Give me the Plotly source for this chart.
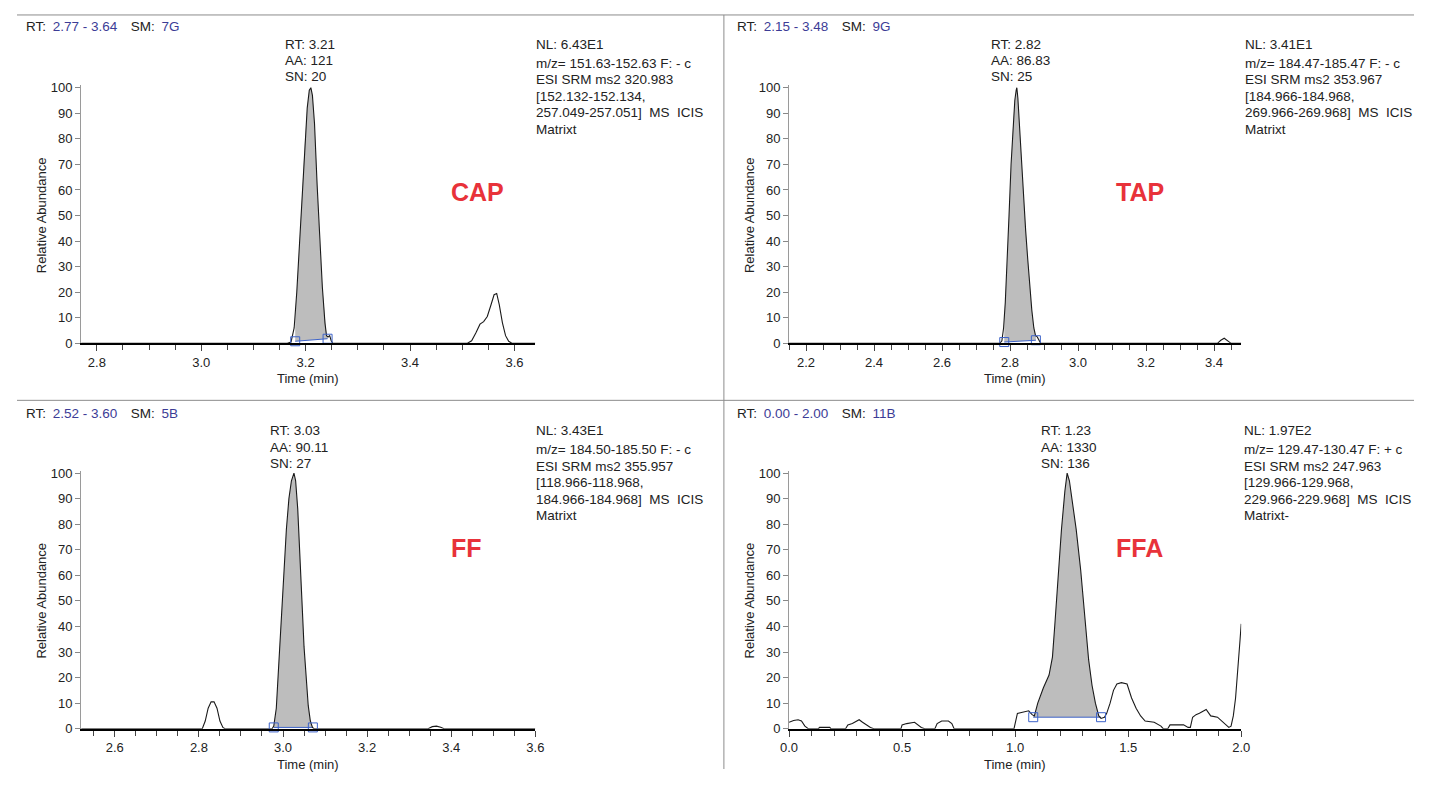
import numpy as np
import plotly.graph_objects as go

# Browser window is 1431x785; the default page body margin is 8px, so the
# figure is made 16px smaller and all positions below are window pixels.
WIN_W, WIN_H = 1431, 785
BODY = 8
FW, FH = WIN_W - 2 * BODY, WIN_H - 2 * BODY

# ---------------- data ----------------
# CAP (top-left)
cap_t = [2.77, 3.165, 3.172, 3.178, 3.183, 3.188, 3.193, 3.198, 3.203, 3.207, 3.210, 3.213, 3.217,
         3.222, 3.227, 3.232, 3.237, 3.240, 3.243, 3.246, 3.249, 3.252,
         3.510, 3.518, 3.526, 3.534, 3.541, 3.548, 3.555, 3.561, 3.566, 3.571, 3.577, 3.583, 3.589, 3.595, 3.64]
cap_y = [0, 0, 0.5, 6, 20, 38, 58, 77, 92, 99, 100, 97, 86,
         62, 40, 22, 8, 3, 2.5, 3, 1, 0,
         0, 1, 4, 7.5, 8.5, 10.5, 15, 19, 19.5, 15, 8, 3, 0.8, 0, 0]
cap_int_t = [3.180, 3.242]
cap_int_y = [0.8, 1.8]

# TAP (top-right)
tap_t = [2.15, 2.770, 2.776, 2.781, 2.786, 2.791, 2.797, 2.803, 2.809, 2.814, 2.818, 2.820, 2.823,
         2.828, 2.834, 2.840, 2.846, 2.852, 2.858, 2.864, 2.870, 2.875, 2.880, 2.885, 2.890,
         3.410, 3.420, 3.430, 3.440, 3.450, 3.48]
tap_y = [0, 0, 1, 6, 16, 30, 50, 70, 86, 95, 99, 100, 96,
         84, 70, 56, 44, 33, 22, 13, 6, 3, 2.5, 1, 0,
         0, 1.2, 2, 1, 0, 0]
tap_int_t = [2.783, 2.876]
tap_int_y = [0.5, 1.2]

# FF (bottom-left)
ff_t = [2.52, 2.808, 2.815, 2.822, 2.829, 2.836, 2.843, 2.850, 2.857, 2.862,
        2.974, 2.978, 2.984, 2.990, 2.996, 3.002, 3.008, 3.014, 3.020, 3.026, 3.030,
        3.035, 3.040, 3.045, 3.050, 3.055, 3.060, 3.065, 3.070, 3.074,
        3.345, 3.355, 3.365, 3.375, 3.383, 3.60]
ff_y = [0, 0, 3, 8, 10.5, 10.5, 8, 3, 0.5, 0,
        0, 1, 8, 26, 44, 62, 78, 90, 97, 100, 97,
        86, 70, 50, 32, 18, 9, 3, 0.5, 0,
        0, 0.8, 1, 0.6, 0, 0]
ff_int_t = [2.978, 3.071]
ff_int_y = [0.5, 0.5]

# FFA (bottom-right)
ffa_t = [0.0, 0.02, 0.04, 0.055, 0.07, 0.085, 0.13, 0.135, 0.18, 0.185, 0.25, 0.26, 0.28, 0.31, 0.325,
         0.34, 0.36, 0.375, 0.495, 0.5, 0.52, 0.555, 0.575, 0.585, 0.6, 0.645, 0.655, 0.675, 0.705,
         0.72, 0.73, 0.995, 1.01, 1.045, 1.06, 1.075, 1.085, 1.10, 1.125, 1.15, 1.165, 1.175, 1.19,
         1.205, 1.22, 1.23, 1.24, 1.255, 1.27, 1.29, 1.31, 1.325, 1.34, 1.355, 1.37, 1.38, 1.395,
         1.405, 1.42, 1.435, 1.45, 1.47, 1.495, 1.515, 1.535, 1.555, 1.575, 1.615, 1.645, 1.655,
         1.675, 1.685, 1.745, 1.765, 1.775, 1.785, 1.80, 1.815, 1.845, 1.865, 1.895, 1.925, 1.945,
         1.955, 1.965, 1.975, 1.985, 1.995, 2.0]
ffa_y = [2.5, 3.2, 3.5, 3, 1, 0, 0, 0.5, 0.5, 0, 0, 1.5, 2, 3.5, 2.5,
         1.5, 0.5, 0, 0, 1.5, 2, 2.5, 1, 0.5, 0, 0, 2, 3, 3,
         2, 0, 0, 6, 6.5, 7, 5.5, 5, 10, 16, 21, 28, 40, 60,
         78, 93, 100, 97, 88, 78, 62, 42, 27, 17, 10, 5, 4, 4.5,
         6, 10, 15, 17.5, 18, 17.5, 12, 8, 5, 3, 2.5, 1, 0,
         0, 1.5, 1.5, 0.5, 0.5, 4.5, 5.5, 6, 7.5, 5, 4.5, 2, 0.5,
         1, 5, 12, 22, 35, 41]
ffa_int_t = [1.080, 1.380]
ffa_int_y = [4.5, 4.5]

compounds = ["CAP", "TAP", "FF", "FFA"]
rt_ranges = [(2.77, 3.64), (2.15, 3.48), (2.52, 3.60), (0.00, 2.00)]
rt_range_labels = ["2.77 - 3.64", "2.15 - 3.48", "2.52 - 3.60", "0.00 - 2.00"]
sm_labels = ["7G", "9G", "5B", "11B"]
peak_rt = [3.21, 2.82, 3.03, 1.23]
peak_aa = ["121", "86.83", "90.11", "1330"]
peak_sn = ["20", "25", "27", "136"]
nl_labels = ["6.43E1", "3.41E1", "3.43E1", "1.97E2"]
info_lines = [
    ["m/z= 151.63-152.63 F: - c", "ESI SRM ms2 320.983", "[152.132-152.134,",
     "257.049-257.051]&nbsp;&nbsp;MS&nbsp;&nbsp;ICIS", "Matrixt"],
    ["m/z= 184.47-185.47 F: - c", "ESI SRM ms2 353.967", "[184.966-184.968,",
     "269.966-269.968]&nbsp;&nbsp;MS&nbsp;&nbsp;ICIS", "Matrixt"],
    ["m/z= 184.50-185.50 F: - c", "ESI SRM ms2 355.957", "[118.966-118.968,",
     "184.966-184.968]&nbsp;&nbsp;MS&nbsp;&nbsp;ICIS", "Matrixt"],
    ["m/z= 129.47-130.47 F: + c", "ESI SRM ms2 247.963", "[129.966-129.968,",
     "229.966-229.968]&nbsp;&nbsp;MS&nbsp;&nbsp;ICIS", "Matrixt-"],
]
x_major = [(0.2, 2.8), (0.2, 2.2), (0.2, 2.6), (0.5, 0.0)]
x_minor = [0.05, 0.05, 0.05, 0.1]
y_ticks = list(range(0, 101, 10))

traces_t = [cap_t, tap_t, ff_t, ffa_t]
traces_y = [cap_y, tap_y, ff_y, ffa_y]
ints_t = [cap_int_t, tap_int_t, ff_int_t, ffa_int_t]
ints_y = [cap_int_y, tap_int_y, ff_int_y, ffa_int_y]


# ---------------- layout geometry (window pixels) ----------------
def px(x):
    return (x - BODY) / FW


def py(y):
    return 1 - (y - BODY) / FH


panels = [
    dict(x0=73, x1=533, yb=344, yt=84, hx=15, hy=22, nlx=532),
    dict(x0=790, x1=1248, yb=344, yt=84, hx=735, hy=22, nlx=1250),
    dict(x0=73, x1=533, yb=736, yt=476, hx=15, hy=415, nlx=532),
    dict(x0=790, x1=1248, yb=736, yt=476, hx=735, hy=415, nlx=1249),
]
label_pos = [(474, 190), (1145, 190), (463, 552), (1145, 552)]

FONT = "Liberation Sans, Arial, sans-serif"
TXT = "#222222"
BLUE_TXT = "#3c3c96"
FILL = "#bdbdbd"
BASE_BLUE = "#3d63c9"
ENSP = "&#8194;"

fig = go.Figure()
layout = dict(
    width=FW, height=FH, margin=dict(l=0, r=0, t=0, b=0),
    paper_bgcolor="white", plot_bgcolor="white", showlegend=False,
    font=dict(family=FONT, size=13, color=TXT),
)
annotations = []
shapes = []


def text_at(x, y, s, size=13, xanchor="left", color=TXT, xref="paper", xshift=0):
    annotations.append(dict(xref=xref, yref="paper", x=x, y=py(y), text=s, showarrow=False,
                            xanchor=xanchor, yanchor="middle", xshift=xshift,
                            font=dict(size=size, color=color)))


YMAX = 101
for i in range(4):
    p = panels[i]
    sfx = "" if i == 0 else str(i + 1)
    xa, ya = "x" + sfx, "y" + sfx
    pxu = (p["yb"] - p["yt"]) / 100.0
    ytop = p["yb"] - YMAX * pxu
    t = np.array(traces_t[i], dtype=float)
    y = np.array(traces_y[i], dtype=float)
    t0, t1 = ints_t[i]
    b0, b1 = ints_y[i]
    mask = (t > t0) & (t < t1)
    ts = np.concatenate([[t0], t[mask], [t1]])
    ys = np.concatenate([[np.interp(t0, t, y)], y[mask], [np.interp(t1, t, y)]])
    poly_x = np.concatenate([ts, [t1, t0, t0]])
    poly_y = np.concatenate([ys, [b1, b0, ys[0]]])
    fig.add_trace(go.Scatter(x=poly_x, y=poly_y, mode="lines", fill="toself", fillcolor=FILL,
                             line=dict(width=0, color=FILL), xaxis=xa, yaxis=ya, hoverinfo="skip"))
    fig.add_trace(go.Scatter(x=[t0, t1], y=[b0, b1], mode="lines",
                             line=dict(color=BASE_BLUE, width=1), xaxis=xa, yaxis=ya, hoverinfo="skip"))
    fig.add_trace(go.Scatter(x=t, y=y, mode="lines", line=dict(color="#1a1a1a", width=1.1),
                             xaxis=xa, yaxis=ya))
    fig.add_trace(go.Scatter(x=[t0, t1], y=[b0, b1], mode="markers", cliponaxis=False,
                             marker=dict(symbol="square-open", size=9, color=BASE_BLUE,
                                         line=dict(width=1, color=BASE_BLUE)),
                             xaxis=xa, yaxis=ya, hoverinfo="skip"))

    dtick, tick0 = x_major[i]
    layout["xaxis" + sfx] = dict(
        domain=[px(p["x0"]), px(p["x1"])], range=list(rt_ranges[i]), anchor=ya,
        showline=True, linecolor="#000000", linewidth=2, ticks="outside", ticklen=6,
        tickcolor="#444444", tickwidth=1, tick0=tick0, dtick=dtick, tickformat=".1f",
        tickfont=dict(size=13, color=TXT), showgrid=False, zeroline=False,
        minor=dict(ticks="outside", ticklen=5, tickcolor="#444444", tickwidth=1,
                   dtick=x_minor[i], tick0=tick0, showgrid=False),
        fixedrange=True,
    )
    layout["yaxis" + sfx] = dict(
        domain=[py(p["yb"]), py(ytop)], range=[0, YMAX], anchor=xa,
        showline=True, linecolor="#9a9a9a", linewidth=1, ticks="outside", ticklen=5,
        tickcolor="#888888", tickvals=y_ticks, tickfont=dict(size=13, color=TXT),
        showgrid=False, zeroline=False, fixedrange=True,
    )
    # axis titles
    text_at(px((p["x0"] + p["x1"]) / 2), p["yb"] + 36, "Time (min)", xanchor="center")
    annotations.append(dict(xref="paper", yref="paper", x=px(p["x0"] - 40),
                            y=py((p["yb"] + p["yt"]) / 2), text="Relative Abundance",
                            textangle=-90, showarrow=False, font=dict(size=13, color=TXT),
                            xanchor="center", yanchor="middle"))
    # header
    hdr = ("RT:%s<span style='color:%s'>%s</span>%s%sSM:%s<span style='color:%s'>%s</span>"
           % (ENSP, BLUE_TXT, rt_range_labels[i], ENSP, ENSP, ENSP, BLUE_TXT, sm_labels[i]))
    text_at(px(p["hx"]), p["hy"], hdr, size=13.5)
    # peak label (three lines)
    pk_lines = ["RT: %.2f" % peak_rt[i], "AA: %s" % peak_aa[i], "SN: %s" % peak_sn[i]]
    for k, s in enumerate(pk_lines):
        text_at(peak_rt[i], p["hy"] + 18 + 16.5 * k, s, size=13.5, xref=xa, xshift=-28)
    # NL + info block
    text_at(px(p["nlx"]), p["hy"] + 18, "NL: " + nl_labels[i], size=13.5)
    for k, s in enumerate(info_lines[i]):
        text_at(px(p["nlx"]), p["hy"] + 37 + 16.8 * k, s, size=13.5)
    # compound label
    lx, ly = label_pos[i]
    text_at(px(lx), ly, "<b>%s</b>" % compounds[i], size=25, xanchor="center", color="#e8323a")

line_style = dict(color="#8c8c8c", width=1)
shapes.append(dict(type="line", xref="paper", yref="paper", x0=px(8), x1=1, y0=py(10), y1=py(10),
                   line=line_style))
shapes.append(dict(type="line", xref="paper", yref="paper", x0=0, x1=1, y0=py(402), y1=py(402),
                   line=line_style))
shapes.append(dict(type="line", xref="paper", yref="paper", x0=px(724), x1=px(724), y0=0, y1=py(10),
                   line=line_style))

layout["annotations"] = annotations
layout["shapes"] = shapes
fig.update_layout(**layout)
fig.write_html("out.html", config={"displayModeBar": False, "staticPlot": True})
